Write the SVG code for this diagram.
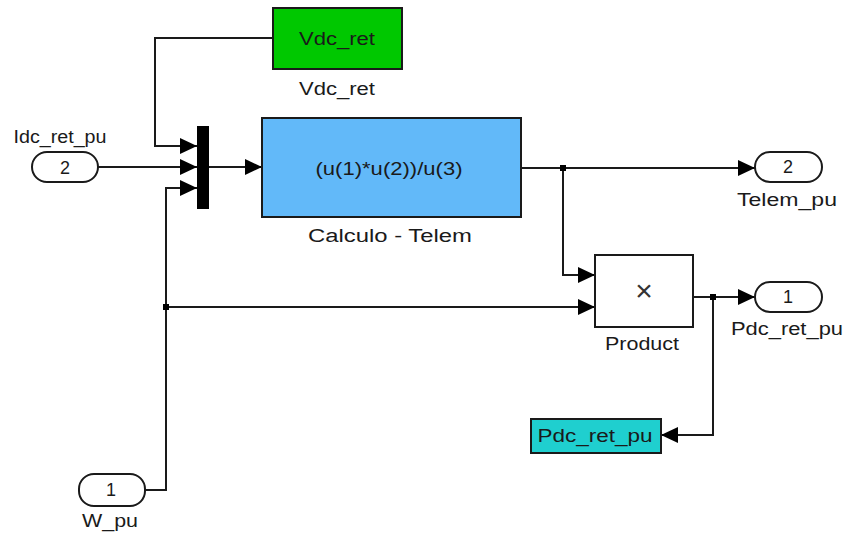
<svg xmlns="http://www.w3.org/2000/svg" width="849" height="536" viewBox="0 0 849 536">
<style>
.w{fill:none;stroke:#1a1a1a;stroke-width:2}
.blk{stroke:#1a1a1a;stroke-width:2}
.port{fill:#fff;stroke:#1a1a1a;stroke-width:2}
text{font-family:"Liberation Sans",Arial,sans-serif;font-size:18px;fill:#1a1a1a}
.c{text-anchor:middle}
.x{font-size:30px;fill:#333}
</style>
<defs>
<marker id="ar" markerUnits="userSpaceOnUse" markerWidth="18" markerHeight="18" viewBox="0 0 18 18" refX="17" refY="9" orient="auto">
<path d="M0,1 L17,9 L0,17 Z" fill="#000"/>
</marker>
</defs>
<rect width="849" height="536" fill="#fff"/>
<g id="connectors">
<path class="w" d="M273,38 H155 V146 H197" marker-end="url(#ar)"/>
<path class="w" d="M98,167 H197" marker-end="url(#ar)"/>
<path class="w" d="M145,490 H166 V188 H197" marker-end="url(#ar)"/>
<path class="w" d="M166,307 H595" marker-end="url(#ar)"/>
<path class="w" d="M209,167 H262" marker-end="url(#ar)"/>
<path class="w" d="M521,168 H755" marker-end="url(#ar)"/>
<path class="w" d="M563,168 V275 H595" marker-end="url(#ar)"/>
<path class="w" d="M693,297 H755" marker-end="url(#ar)"/>
<path class="w" d="M713,297 V435 H661" marker-end="url(#ar)"/>
<rect x="560" y="165" width="6" height="6" fill="#000"/>
<rect x="163" y="304" width="6" height="6" fill="#000"/>
<rect x="710" y="294" width="6" height="6" fill="#000"/>
</g>
<g id="vdc_ret">
<rect class="blk" x="273" y="8" width="129" height="61" fill="#00c800"/>
<text class="c" x="337" y="45" textLength="76" lengthAdjust="spacingAndGlyphs">Vdc_ret</text>
<text class="c" x="337" y="95" textLength="76" lengthAdjust="spacingAndGlyphs">Vdc_ret</text>
</g>
<g id="idc_ret_pu">
<rect class="port" x="32" y="152" width="66" height="30" rx="15" ry="15"/>
<text class="c" x="65" y="174">2</text>
<text class="c" x="60" y="143" textLength="93" lengthAdjust="spacingAndGlyphs">Idc_ret_pu</text>
</g>
<g id="mux">
<rect x="197" y="126" width="12" height="83" fill="#000"/>
</g>
<g id="calculo">
<rect class="blk" x="262" y="118" width="259" height="99" fill="#62b9f9"/>
<text class="c" x="389" y="175" textLength="147" lengthAdjust="spacingAndGlyphs">(u(1)*u(2))/u(3)</text>
<text class="c" x="390" y="242" textLength="164" lengthAdjust="spacingAndGlyphs">Calculo - Telem</text>
</g>
<g id="telem_pu">
<rect class="port" x="755" y="152" width="67" height="30" rx="15" ry="15"/>
<text class="c" x="788" y="173">2</text>
<text class="c" x="787" y="206" textLength="100" lengthAdjust="spacingAndGlyphs">Telem_pu</text>
</g>
<g id="product">
<rect class="blk" x="595" y="255" width="98" height="72" fill="#fff"/>
<text class="c x" x="644" y="301">×</text>
<text class="c" x="642" y="350" textLength="74" lengthAdjust="spacingAndGlyphs">Product</text>
</g>
<g id="pdc_ret_pu_out">
<rect class="port" x="755" y="282" width="67" height="30" rx="15" ry="15"/>
<text class="c" x="788" y="303">1</text>
<text class="c" x="787" y="335" textLength="112" lengthAdjust="spacingAndGlyphs">Pdc_ret_pu</text>
</g>
<g id="pdc_goto">
<rect class="blk" x="531" y="419" width="130" height="34" fill="#1fcfcf"/>
<text class="c" x="595" y="442" textLength="115" lengthAdjust="spacingAndGlyphs">Pdc_ret_pu</text>
</g>
<g id="w_pu">
<rect class="port" x="79" y="474" width="66" height="32" rx="15" ry="15"/>
<text class="c" x="111" y="496">1</text>
<text class="c" x="110" y="527" textLength="56" lengthAdjust="spacingAndGlyphs">W_pu</text>
</g>
</svg>
